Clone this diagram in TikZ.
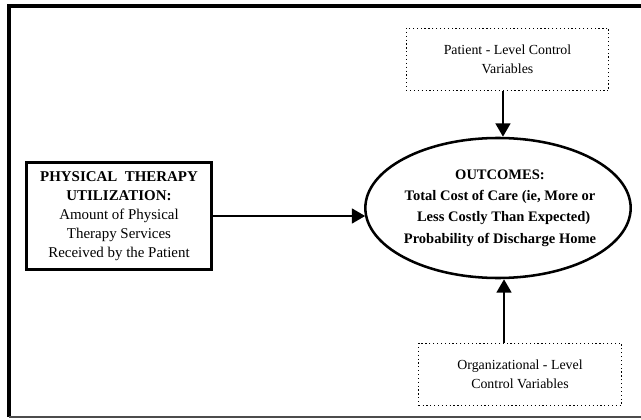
\documentclass[tikz,border=0pt]{standalone}
\usepackage{fontspec}
\setmainfont{Liberation Serif}
\usetikzlibrary{shapes.geometric,arrows.meta}
\begin{document}
\begin{tikzpicture}[x=0.75pt,y=-0.75pt,
  every node/.style={font=\fontsize{10.4}{14.5}\selectfont},
  dotbox/.style={draw, dotted, line width=0.9pt, minimum width=152pt, minimum height=47pt, align=center, inner sep=0pt},
  mainbox/.style={draw, line width=2.2pt, minimum width=139pt, minimum height=80pt, align=center, inner sep=0pt, font=\fontsize{11.2}{14.2}\selectfont},
  oval/.style={draw, ellipse, line width=1.9pt, minimum width=199pt, minimum height=105pt, inner sep=0pt},
  arr/.style={line width=1.9pt, -{Triangle[length=10pt,width=11pt]}}]
\useasboundingbox (0,0) rectangle (641,420);
% frame
\draw[line width=3pt] (9,417) -- (9,6) -- (643,6);
\draw[line width=1.5pt, black!70] (9,417) -- (643,417);
% nodes
\node[dotbox] (pbox) at (507.5,59.5) {Patient - Level Control\\Variables};
\node[dotbox] (obox) at (520,374.5) {Organizational - Level\\Control Variables};
\node[mainbox] (lbox) at (119,216) {\textbf{PHYSICAL\ \ THERAPY}\\\textbf{UTILIZATION:}\\Amount of Physical\\Therapy Services\\Received by the Patient};
\node[oval] (out) at (498,208) {};
\node[align=center, font=\fontsize{10.9}{16}\selectfont\bfseries] (outtxt) at (500,208) {OUTCOMES:\\Total Cost of Care (ie, More or\\\ \ Less Costly Than Expected)\\Probability of Discharge Home};
% arrows
\draw[arr] (lbox.east) -- (lbox.east -| out.184);
\draw[arr] ([xshift=-3.4pt]pbox.south) -- ([xshift=-3.4pt]pbox.south |- out.north);
\draw[arr] ([xshift=-12pt]obox.north) -- ([xshift=-12pt]obox.north |- out.south);
\end{tikzpicture}
\end{document}
